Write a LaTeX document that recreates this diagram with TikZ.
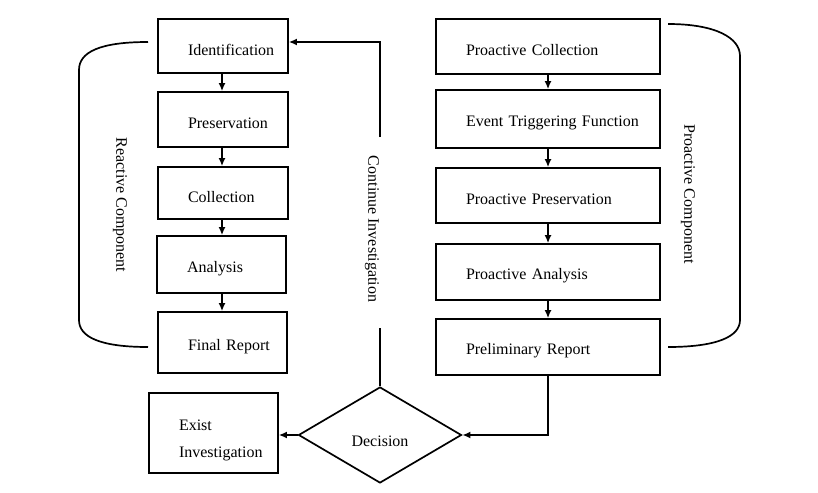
\documentclass[tikz,border=0pt]{standalone}
\usepackage{fontspec}
\setmainfont{Liberation Serif}
\usetikzlibrary{arrows.meta,shapes.geometric,shadows}
\newcommand{\lowtxt}[1]{\raisebox{-4pt}[\height][\depth]{#1}}
\begin{document}
\begin{tikzpicture}[x=1pt,y=-1pt,
  every node/.style={font=\fontsize{16}{19}\selectfont, text=black},
  box/.style={draw=black, line width=1.7pt, fill=white, inner xsep=0pt, inner ysep=0pt,
    text width=#1, align=left, execute at begin node=\hspace*{30pt},
    drop shadow={opacity=0.18, shadow xshift=1.2pt, shadow yshift=-1.2pt}},
  dec/.style={draw=black, line width=1.7pt, fill=white, diamond, inner sep=0pt,
    minimum width=163pt, minimum height=96pt},
  conn/.style={line width=1.6pt},
  arr/.style={conn, -{Latex[length=8pt,width=7pt]}},
  brace/.style={line width=1.7pt},
  vlabel/.style={rotate=-90}]
\useasboundingbox (0,0) rectangle (818,492);
% left column
\node[box=130pt, minimum height=54pt] (ident) at (223,46) {\lowtxt{Identification}};
\node[box=130pt, minimum height=55pt] (pres) at (223,119.5) {\lowtxt{Preservation}};
\node[box=130pt, minimum height=52pt] (coll) at (223,193) {\lowtxt{Collection}};
\node[box=129pt, minimum height=57pt] (anal) at (221.5,264.5) {\lowtxt{Analysis}};
\node[box=129pt, minimum height=61pt] (final) at (222.5,342.5) {\lowtxt{Final Report}};
\node[box=129pt, minimum height=80pt] (exist) at (213.5,433) {\raisebox{-7pt}[\height][\depth]{\begin{tabular}{@{}l@{}}Exist\\[8pt]Investigation\end{tabular}}};
% right column
\node[box=224pt, minimum height=55pt] (pc) at (548,46.5) {\lowtxt{Proactive Collection}};
\node[box=224pt, minimum height=58pt] (etf) at (548,119) {\lowtxt{Event Triggering Function}};
\node[box=224pt, minimum height=55pt] (pp) at (548,195.5) {\lowtxt{Proactive Preservation}};
\node[box=224pt, minimum height=56pt] (pa) at (548,272) {\lowtxt{Proactive Analysis}};
\node[box=224pt, minimum height=56pt] (pr) at (548,347) {\lowtxt{Preliminary Report}};
% decision
\node[dec] (decn) at (380,435) {\raisebox{-6pt}[\height][\depth]{Decision}};
% arrows left
\draw[arr] (ident.south -| 222,0) -- (pres.north -| 222,0);
\draw[arr] (pres.south -| 222,0) -- (coll.north -| 222,0);
\draw[arr] (coll.south -| 222,0) -- (anal.north -| 222,0);
\draw[arr] (anal.south -| 222,0) -- (final.north -| 222,0);
% arrows right
\draw[arr] (pc) -- (etf);
\draw[arr] (etf) -- (pp);
\draw[arr] (pp) -- (pa);
\draw[arr] (pa) -- (pr);
% decision connections
\draw[arr] (decn.west) -- (exist.east |- decn.west);
\draw[arr] (pr.south) |- (decn.east);
% continue investigation
\coordinate (c1) at (380,328);
\coordinate (c2) at (380,137);
\coordinate (c3) at (380,42);
\draw[conn] (decn.north) -- (c1);
\draw[arr] (c2) -- (c3) -- (ident.east |- c3);
\node[vlabel] (cont) at (372,229) {Continue Investigation};
% brackets
\coordinate (r1) at (148,42);
\coordinate (r2) at (148,347);
\draw[brace] (r1) .. controls (100,42) and (79,52) .. (79,70) -- (79,320) .. controls (79,337) and (100,347) .. (r2);
\node[vlabel] (react) at (120,205) {Reactive Component};
\coordinate (p1) at (668,24);
\coordinate (p2) at (668,347);
\draw[brace] (p1) .. controls (716,24) and (740,38) .. (740,56) -- (740,320) .. controls (740,337) and (716,347) .. (p2);
\node[vlabel] (proact) at (688,194) {Proactive Component};
\end{tikzpicture}
\end{document}
